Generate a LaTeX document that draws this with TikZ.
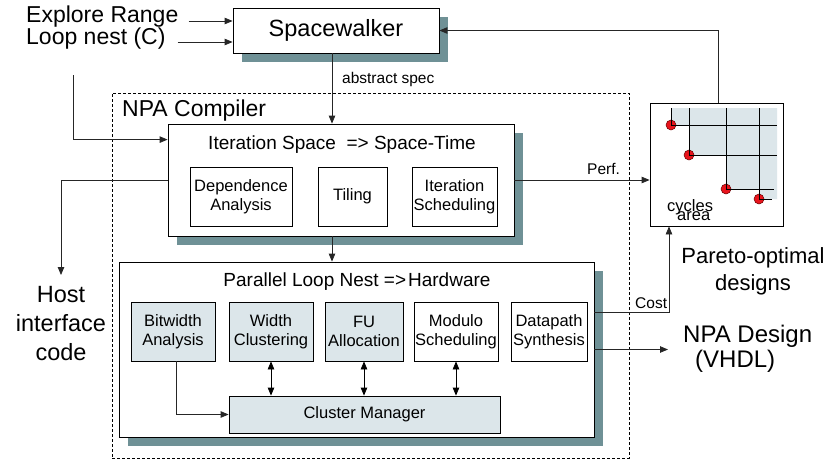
\documentclass[tikz,border=0pt]{standalone}
\usepackage{fontspec}
\setmainfont{Liberation Sans}
\usetikzlibrary{arrows.meta,shadows,calc}
\definecolor{shadowc}{RGB}{111,145,150}
\definecolor{lightc}{RGB}{220,230,234}
\definecolor{dotc}{RGB}{232,20,28}
\newcommand\myfs[2]{\fontsize{#1}{#2}\selectfont}
\begin{document}
\begin{tikzpicture}[x=1pt,y=-1pt,
 box/.style={draw=black,line width=0.8pt,fill=white,inner sep=0pt,align=center},
 shbox/.style={box,drop shadow={shadow xshift=8.5pt,shadow yshift=-8.5pt,fill=shadowc,opacity=1}},
 sub/.style={box,font=\myfs{16.5}{19}},
 subg/.style={sub,fill=lightc},
 arr/.style={-{Triangle[length=8pt,width=6.5pt]},line width=0.8pt,draw=black!85},
 darr/.style={{Triangle[length=8pt,width=6.5pt]}-{Triangle[length=8pt,width=6.5pt]},line width=0.8pt},
 ln/.style={line width=0.8pt},
 big/.style={font=\myfs{23.5}{29},inner sep=0pt},
 small/.style={font=\myfs{15.5}{18},inner sep=0pt,anchor=base west},
 title/.style={font=\myfs{19}{22},inner sep=0pt,anchor=base}]
\useasboundingbox (0,0) rectangle (825,461);

% inputs
\node[font=\myfs{23}{28},inner sep=0pt,anchor=base west] (expl) at (26,22.5) {Explore Range};
\node[font=\myfs{23}{28},inner sep=0pt,anchor=base west] (loop) at (26,44) {Loop nest (C)};

% Spacewalker
\node[shbox,minimum width=206pt,minimum height=45pt,font=\myfs{23.5}{28}] (sw) at (336,30.5) {Spacewalker};

% NPA compiler region
\node[draw,dash pattern=on 3pt off 2pt,line width=0.7pt,minimum width=517pt,minimum height=365pt,inner sep=0pt] (npa) at (370.5,275.5) {};
\node[anchor=base west,font=\myfs{23}{28},inner sep=0pt] (npal) at (122,116) {NPA Compiler};

% Iteration space box
\node[shbox,minimum width=346pt,minimum height=112pt] (iter) at (341,180) {};
\node[title] (itert) at (342,149) {Iteration Space\ \ => Space-Time};
\node[sub,minimum width=102pt,minimum height=59pt] (dep) at (241,196.5) {Dependence\\Analysis};
\node[sub,minimum width=69pt,minimum height=59pt] (til) at (352.5,196.5) {Tiling};
\node[sub,minimum width=85pt,minimum height=59pt] (isch) at (454.5,196.5) {Iteration\\Scheduling};

% Parallel loop nest box
\node[shbox,minimum width=475pt,minimum height=175pt] (par) at (356.5,349.5) {};
\node[title] (part) at (357,286) {Parallel Loop Nest =>\hspace{2pt}Hardware};
\node[subg,minimum width=84pt,minimum height=59pt] (bw) at (173,331.5) {Bitwidth\\Analysis};
\node[subg,minimum width=84pt,minimum height=59pt] (wc) at (271,331.5) {Width\\Clustering};
\node[subg,minimum width=78pt,minimum height=59pt] (fu) at (364,331.5) {FU\\Allocation};
\node[sub,minimum width=84pt,minimum height=59pt] (ms) at (456,331.5) {Modulo\\Scheduling};
\node[sub,minimum width=76pt,minimum height=59pt] (ds) at (549,331.5) {Datapath\\Synthesis};
\node[subg,minimum width=271pt,minimum height=37pt] (cm) at (364.5,414.5) {Cluster Manager};

% Pareto box
\node[box,minimum width=133pt,minimum height=123pt] (pbox) at (716.5,164.5) {};
\fill[lightc] (671,108) -- (777,108) -- (777,199) -- (759,199) -- (759,189) -- (726,189)
  -- (726,155) -- (689,155) -- (689,125) -- (671,125) -- cycle;
\foreach \px/\py/\pe in {671/125/777, 689/155/777, 726/189/774, 759/199/772} {
  \filldraw[fill=dotc,draw=black!60!red,line width=0.5pt] (\px,\py) circle[radius=5pt];
  \draw[ln] (\px,108) -- (\px,\py) -- (\pe,\py);
}
\node[anchor=base west,font=\myfs{16.5}{18},inner sep=0pt] (cyc) at (667,211) {cycles};
\node[anchor=base west,font=\myfs{16.5}{18},inner sep=0pt] (area) at (677,220) {area};
\node[align=center,font=\myfs{22}{27},inner sep=0pt,anchor=north] (plab) at (753,247) {Pareto-optimal\\designs};

% outputs
\node[align=center,big,anchor=north] (host) at (61,286) {Host\\interface\\code};
\node[align=left,font=\myfs{24}{25},inner sep=0pt,anchor=north west] (vhdl) at (683,325) {NPA Design\\\hspace{12pt}(VHDL)};

% connectors
\coordinate (e1) at ([xshift=10pt,yshift=1.5pt]expl.base east);
\coordinate (e2) at ([xshift=12pt,yshift=2pt]loop.base east);
\draw[arr] (e1) -- (e1 -| sw.west);
\draw[arr] (e2) -- (e2 -| sw.west);
\coordinate (lstart) at (73,75);
\draw[arr] (lstart) |- ([yshift=-16pt]iter.north west);
\coordinate (s1) at ([xshift=-4pt]sw.south);
\draw[arr] (s1) -- (s1 |- iter.north);
\node[small] (abs) at (342,83) {abstract spec};
\coordinate (s2) at ([xshift=-9pt]iter.south);
\draw[arr] (s2) -- (s2 |- par.north);
\draw[arr] (iter.west) -| ([yshift=11pt]host.north);
\draw[arr] (iter.east) -- (iter.east -| pbox.west);
\node[small] (perf) at (587,174) {Perf.};
\draw[arr] ([xshift=1.5pt]pbox.north) |- (sw.east);
\draw[arr] ([yshift=37.5pt]par.east) -| ([xshift=-47.5pt]pbox.south);
\node[small] (cost) at (635,308) {Cost};
\draw[arr] (par.east) -- ($(par.east -| vhdl.west)+(-15,0)$);
\draw[arr] ([xshift=3pt]bw.south) |- (cm.west);
\draw[darr] (wc.south) -- (wc.south |- cm.north);
\draw[darr] (fu.south) -- (fu.south |- cm.north);
\draw[darr] (ms.south) -- (ms.south |- cm.north);
\end{tikzpicture}
\end{document}
